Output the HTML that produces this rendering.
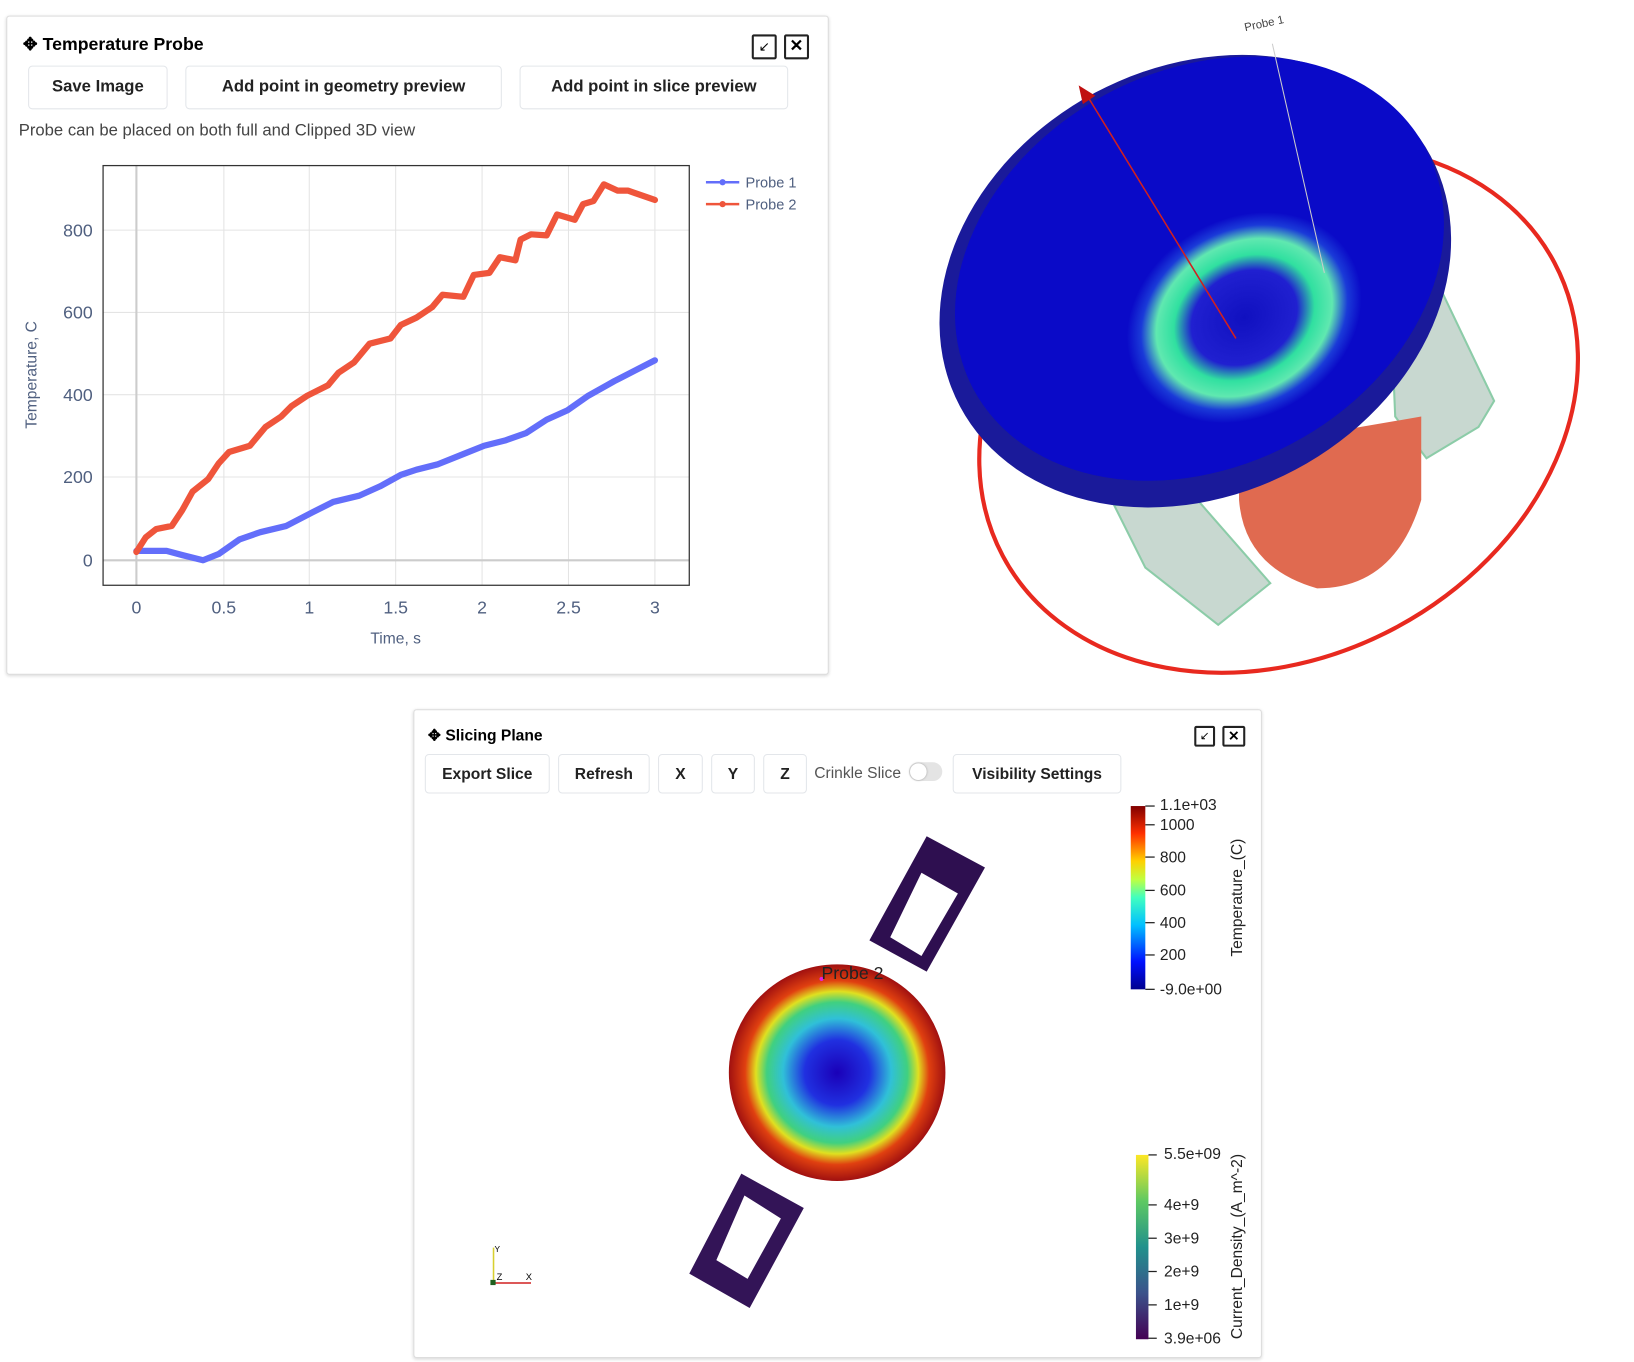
<!DOCTYPE html>
<html><head><meta charset="utf-8"><style>
html,body{margin:0;padding:0;background:#fff;width:1634px;height:1362px;overflow:hidden}
#w{position:absolute;left:0;top:0;width:1560px;height:1300px;transform:scale(1.0412,1.0414);transform-origin:0 0;font-family:"Liberation Sans",sans-serif}
.panel{position:absolute;border:1px solid #ddd;border-radius:3px;box-shadow:0 1px 3px rgba(0,0,0,.15);background:#fff}
.btn{position:absolute;border:1px solid #e3e6ea;border-radius:4px;font-weight:bold;font-size:16px;color:#222;display:flex;align-items:center;justify-content:center;background:#fff}
.t{position:absolute;white-space:nowrap}
</style></head><body><div id="w">
<div class="panel" style="left:6px;top:15px;width:788px;height:631px"></div>
<div class="t" style="left:22px;top:33px;font-size:17px;font-weight:bold">✥ Temperature Probe</div>
<div class="t" style="left:722px;top:33px;width:20px;height:20px;border:2px solid #222;border-radius:2px;font-size:13px;text-align:center;line-height:20px">↙</div>
<div class="t" style="left:753px;top:33px;width:20px;height:20px;border:2px solid #222;border-radius:2px;font-size:16px;font-weight:bold;text-align:center;line-height:20px">✕</div>
<div class="btn" style="left:27px;top:63px;width:132px;height:40px">Save Image</div>
<div class="btn" style="left:178px;top:63px;width:302px;height:40px">Add point in geometry preview</div>
<div class="btn" style="left:499px;top:63px;width:256px;height:40px">Add point in slice preview</div>
<div class="t" style="left:18px;top:117px;font-size:16px;color:#444">Probe can be placed on both full and Clipped 3D view</div>
<svg style="position:absolute;left:0;top:0" width="1560" height="1300">
<g stroke="#e4e4e4" stroke-width="1">
<line x1="215" y1="159" x2="215" y2="562"/><line x1="297" y1="159" x2="297" y2="562"/><line x1="380" y1="159" x2="380" y2="562"/><line x1="463" y1="159" x2="463" y2="562"/><line x1="546" y1="159" x2="546" y2="562"/><line x1="629" y1="159" x2="629" y2="562"/>
<line x1="99" y1="221" x2="662" y2="221"/><line x1="99" y1="300" x2="662" y2="300"/><line x1="99" y1="379" x2="662" y2="379"/><line x1="99" y1="458" x2="662" y2="458"/>
</g>
<line x1="131" y1="159" x2="131" y2="562" stroke="#ccc" stroke-width="2"/>
<line x1="99" y1="538" x2="662" y2="538" stroke="#ccc" stroke-width="2"/>
<rect x="99" y="159" width="563" height="403" fill="none" stroke="#333" stroke-width="1.2"/>
<g font-size="17" fill="#506080" font-family="Liberation Sans,sans-serif">
<text x="89" y="544" text-anchor="end">0</text><text x="89" y="464" text-anchor="end">200</text><text x="89" y="385" text-anchor="end">400</text><text x="89" y="306" text-anchor="end">600</text><text x="89" y="227" text-anchor="end">800</text>
<g text-anchor="middle"><text x="131" y="589">0</text><text x="215" y="589">0.5</text><text x="297" y="589">1</text><text x="380" y="589">1.5</text><text x="463" y="589">2</text><text x="546" y="589">2.5</text><text x="629" y="589">3</text></g>
<text x="380" y="618" text-anchor="middle" font-size="15">Time, s</text>
<text transform="translate(35,360) rotate(-90)" text-anchor="middle" font-size="15">Temperature, C</text>
<text x="716" y="180" font-size="14">Probe 1</text><text x="716" y="201" font-size="14">Probe 2</text>
</g>
<line x1="678" y1="175" x2="710" y2="175" stroke="#636efa" stroke-width="2.5"/><circle cx="694" cy="175" r="3" fill="#636efa"/>
<line x1="678" y1="196" x2="710" y2="196" stroke="#ef553b" stroke-width="2.5"/><circle cx="694" cy="196" r="3" fill="#ef553b"/>
<polyline fill="none" stroke="#636efa" stroke-width="6" stroke-linejoin="round" stroke-linecap="round" points="131,529 160,529 175,533 195,538 210,532 230,518 250,511 275,505 300,492 320,482 345,476 365,467 385,456 400,451 420,446 445,436 465,428 485,423 505,416 525,403 545,394 565,380 590,366 629,346"/>
<polyline fill="none" stroke="#ef553b" stroke-width="6" stroke-linejoin="round" stroke-linecap="round" points="131,530 140,516 150,508 165,505 175,490 185,472 200,460 210,445 220,434 240,428 255,410 270,400 280,390 295,380 315,370 325,358 340,348 355,330 375,325 385,312 400,305 415,295 425,283 445,285 455,264 470,262 480,247 495,250 500,230 510,225 525,226 535,206 552,211 560,196 570,193 580,177 593,183 603,183 629,192"/>

<!-- 3D view -->
<text x="1196" y="30" font-size="11" fill="#444" transform="rotate(-12 1196 30)">Probe 1</text>
<ellipse cx="1228" cy="393" rx="300" ry="238" transform="rotate(-28 1228 393)" fill="none" stroke="#e8291f" stroke-width="4"/>
<polygon points="1070,485 1150,480 1220,560 1170,600 1100,545" fill="#c8d8d0" stroke="#8ccca8" stroke-width="2"/>
<polygon points="1335,280 1380,270 1435,385 1420,410 1370,440 1340,400" fill="#c8d8d0" stroke="#8ccca8" stroke-width="2"/>
<path d="M1190,430 L1365,400 L1365,480 Q1340,565 1265,565 Q1195,545 1190,480 Z" fill="#e06a50"/>
<ellipse cx="1148" cy="270" rx="256" ry="205" transform="rotate(-28 1148 270)" fill="#1a1a9a"/>
<ellipse cx="1152" cy="258" rx="246" ry="190" transform="rotate(-28 1152 258)" fill="#0a0ac8"/>
<defs><radialGradient id="bw" cx="0.5" cy="0.5" r="0.5"><stop offset="0" stop-color="#1010c0"/><stop offset="0.45" stop-color="#2020d0"/><stop offset="0.6" stop-color="#30e0a0"/><stop offset="0.75" stop-color="#60e8b0"/><stop offset="0.88" stop-color="#1a3ad8"/><stop offset="1" stop-color="#0a0ac8"/></radialGradient>
<linearGradient id="jet" x1="0" y1="1" x2="0" y2="0"><stop offset="0" stop-color="#00008f"/><stop offset="0.15" stop-color="#0010ff"/><stop offset="0.35" stop-color="#00c0ff"/><stop offset="0.5" stop-color="#40ffc0"/><stop offset="0.6" stop-color="#c0ff40"/><stop offset="0.7" stop-color="#ffd000"/><stop offset="0.85" stop-color="#ff3000"/><stop offset="1" stop-color="#800000"/></linearGradient>
<linearGradient id="vir" x1="0" y1="1" x2="0" y2="0"><stop offset="0" stop-color="#440154"/><stop offset="0.25" stop-color="#3b528b"/><stop offset="0.5" stop-color="#21918c"/><stop offset="0.75" stop-color="#5ec962"/><stop offset="1" stop-color="#fde725"/></linearGradient>
<radialGradient id="sl" cx="0.5" cy="0.5" r="0.5"><stop offset="0" stop-color="#1a00b8"/><stop offset="0.3" stop-color="#2030e0"/><stop offset="0.5" stop-color="#30c0d8"/><stop offset="0.65" stop-color="#40d080"/><stop offset="0.75" stop-color="#e0e020"/><stop offset="0.85" stop-color="#e04010"/><stop offset="1" stop-color="#a01010"/></radialGradient></defs>
<ellipse cx="1195" cy="305" rx="118" ry="95" transform="rotate(-30 1195 305)" fill="url(#bw)"/>
<line x1="1043" y1="90" x2="1187" y2="325" stroke="#d02020" stroke-width="1.5"/>
<polygon points="1036,82 1052,92 1040,100" fill="#c01010"/>
<line x1="1222" y1="42" x2="1272" y2="262" stroke="#ccc" stroke-width="1"/>
</svg>

<!-- Slicing panel -->
<div class="panel" style="left:397px;top:681px;width:813px;height:621px"></div>
<div class="t" style="left:411px;top:697px;font-size:15px;font-weight:bold">✥ Slicing Plane</div>
<div class="t" style="left:1147px;top:697px;width:16px;height:16px;border:2px solid #222;border-radius:2px;font-size:11px;text-align:center;line-height:16px">↙</div>
<div class="t" style="left:1174px;top:697px;width:18px;height:16px;border:2px solid #222;border-radius:2px;font-size:13px;font-weight:bold;text-align:center;line-height:16px">✕</div>
<div class="btn" style="left:408px;top:724px;width:118px;height:36px;font-size:15px">Export Slice</div>
<div class="btn" style="left:536px;top:724px;width:86px;height:36px;font-size:15px">Refresh</div>
<div class="btn" style="left:632px;top:724px;width:41px;height:36px;font-size:15px">X</div>
<div class="btn" style="left:683px;top:724px;width:40px;height:36px;font-size:15px">Y</div>
<div class="btn" style="left:733px;top:724px;width:40px;height:36px;font-size:15px">Z</div>
<div class="t" style="left:782px;top:734px;font-size:15px;color:#555">Crinkle Slice</div>
<div class="t" style="left:873px;top:732px;width:32px;height:18px;border-radius:9px;background:#e4e4e4"><div style="width:16px;height:16px;margin:1px;border-radius:8px;background:#fff;box-shadow:0 0 2px #999"></div></div>
<div class="btn" style="left:915px;top:724px;width:160px;height:36px;font-size:15px">Visibility Settings</div>
<svg style="position:absolute;left:0;top:0" width="1560" height="1300">
<path fill-rule="evenodd" fill="#2e0f50" d="M890,803 L946,833 L890,933 L835,903 Z M885,838 L920,858 L885,918 L855,900 Z"/>
<path fill-rule="evenodd" fill="#331457" d="M712,1127 L772,1160 L720,1256 L662,1223 Z M715,1148 L750,1170 L718,1228 L688,1210 Z"/>
<ellipse cx="804" cy="1030" rx="104" ry="104" fill="url(#sl)"/>
<circle cx="789" cy="940" r="2" fill="#e020e0"/>
<text x="789" y="940" font-size="17" fill="#222" font-family="Liberation Sans,sans-serif">Probe 2</text>
<rect x="1086" y="774" width="14" height="176" fill="url(#jet)"/>
<rect x="1091" y="1109" width="12" height="177" fill="url(#vir)"/>
<g stroke="#222" stroke-width="1.2"><line x1="1100" y1="774" x2="1109" y2="774"/><line x1="1100" y1="792" x2="1109" y2="792"/><line x1="1100" y1="823" x2="1109" y2="823"/><line x1="1100" y1="855" x2="1109" y2="855"/><line x1="1100" y1="886" x2="1109" y2="886"/><line x1="1100" y1="917" x2="1109" y2="917"/><line x1="1100" y1="950" x2="1109" y2="950"/>
<line x1="1103" y1="1109" x2="1111" y2="1109"/><line x1="1103" y1="1157" x2="1111" y2="1157"/><line x1="1103" y1="1189" x2="1111" y2="1189"/><line x1="1103" y1="1221" x2="1111" y2="1221"/><line x1="1103" y1="1253" x2="1111" y2="1253"/><line x1="1103" y1="1285" x2="1111" y2="1285"/></g>
<g font-size="15" fill="#222" font-family="Liberation Sans,sans-serif">
<text x="1114" y="778">1.1e+03</text><text x="1114" y="797">1000</text><text x="1114" y="828">800</text><text x="1114" y="860">600</text><text x="1114" y="891">400</text><text x="1114" y="922">200</text><text x="1114" y="955">-9.0e+00</text>
<text x="1118" y="1113">5.5e+09</text><text x="1118" y="1162">4e+9</text><text x="1118" y="1194">3e+9</text><text x="1118" y="1226">2e+9</text><text x="1118" y="1258">1e+9</text><text x="1118" y="1290">3.9e+06</text>
<text transform="translate(1193,862) rotate(-90)" text-anchor="middle">Temperature_(C)</text>
<text transform="translate(1193,1197) rotate(-90)" text-anchor="middle">Current_Density_(A_m^-2)</text>
</g>
<line x1="474" y1="1232" x2="474" y2="1198" stroke="#d8d030" stroke-width="1.5"/>
<line x1="474" y1="1232" x2="510" y2="1232" stroke="#d02020" stroke-width="1.5"/>
<rect x="471" y="1229" width="5" height="5" fill="#206020"/>
<text x="475" y="1202" font-size="8">Y</text><text x="477" y="1229" font-size="9">Z</text><text x="505" y="1229" font-size="9">X</text>
</svg>
</div></body></html>
